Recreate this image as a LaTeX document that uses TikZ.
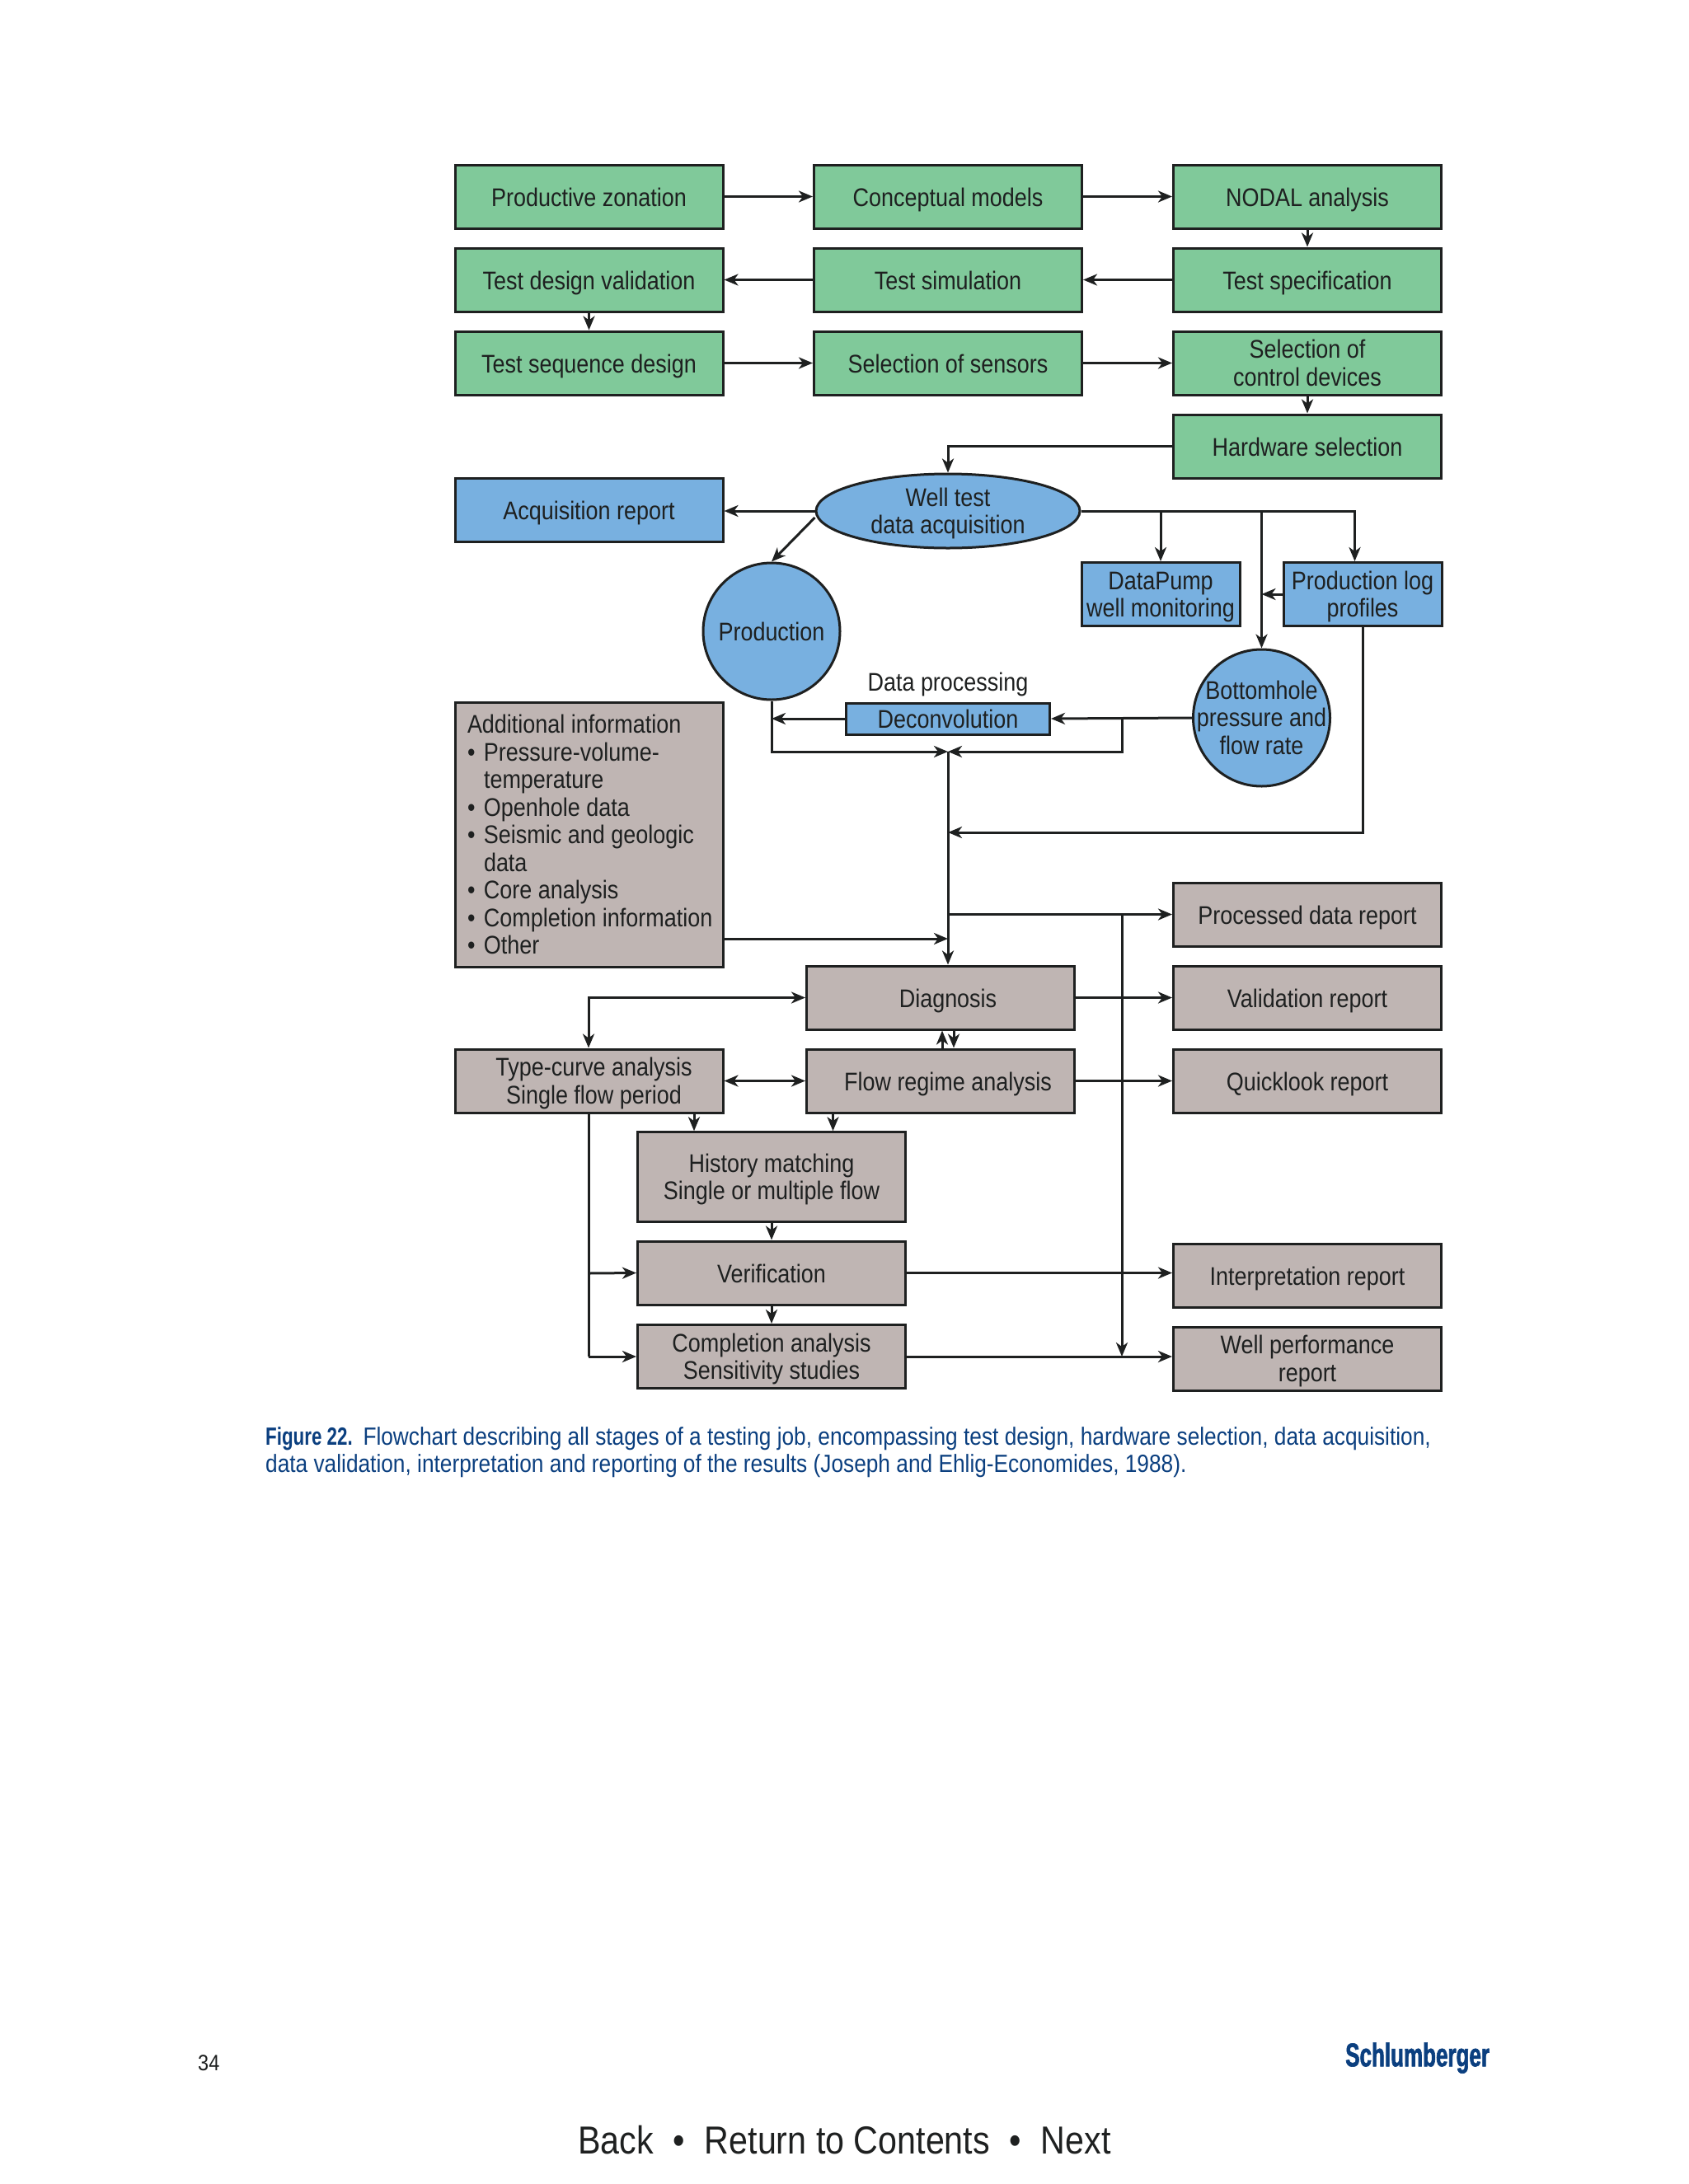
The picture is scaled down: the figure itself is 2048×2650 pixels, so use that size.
\documentclass[tikz,border=0pt]{standalone}
\usepackage{fontspec}
\setmainfont[FakeStretch=0.87]{Liberation Sans}
\newfontfamily\logofont[FakeStretch=0.65,FakeBold=1.5]{Liberation Sans}
\newfontfamily\capbold[FakeStretch=0.74]{Liberation Sans}
\usetikzlibrary{arrows.meta,calc,shapes.geometric}
\definecolor{gfill}{HTML}{80C99A}
\definecolor{bfill}{HTML}{78B0E0}
\definecolor{tfill}{HTML}{BFB5B3}
\definecolor{ink}{HTML}{1E2020}
\definecolor{navy}{HTML}{0B3F7F}
\newcommand\bul{\makebox[20pt][l]{\textbullet}}
\newcommand\ind{\hspace*{20pt}}
\newcommand\lines[1]{\raisebox{1pt}{\smash{\begin{tabular}{@{}c@{}}#1\end{tabular}}}}
\tikzset{
  base/.style={draw=ink,line width=3pt,text=ink,font=\fontsize{31}{33.5}\selectfont,align=center,inner sep=0pt,
    execute at begin node={\rule{0pt}{30pt}},execute at end node={\rule[-7pt]{0pt}{7pt}}},
  multi/.style={execute at begin node={},execute at end node={}},
  wide/.style={base,rectangle,minimum width=325pt,minimum height=77pt},
  gbox/.style={wide,fill=gfill},
  bbox/.style={wide,fill=bfill},
  tbox/.style={wide,fill=tfill},
  bcirc/.style={base,circle,fill=bfill,inner sep=-14pt,minimum size=166pt},
  link/.style={draw=ink,line width=3pt,-{Stealth[length=17pt,width=14pt,inset=5pt]}},
  twoway/.style={draw=ink,line width=3pt,{Stealth[length=17pt,width=14pt,inset=5pt]}-{Stealth[length=17pt,width=14pt,inset=5pt]}},
  plain/.style={draw=ink,line width=3pt},
  word/.style={inner sep=0pt,text=ink},
}
\begin{document}
\begin{tikzpicture}[x=1pt,y=-1pt]
\useasboundingbox (0,0) rectangle (2048,2650);
% green
\node[gbox] (zon) at (714.5,238.5) {Productive zonation};
\node[gbox] (con) at (1150,238.5) {Conceptual models};
\node[gbox] (nod) at (1586,238.5) {NODAL analysis};
\node[gbox] (val) at (714.5,339.5) {Test design validation};
\node[gbox] (sim) at (1150,339.5) {Test simulation};
\node[gbox] (spe) at (1586,339.5) {Test specification};
\node[gbox] (seq) at (714.5,440.5) {Test sequence design};
\node[gbox] (sen) at (1150,440.5) {Selection of sensors};
\node[gbox,multi] (ctl) at (1586,440.5) {\lines{Selection of\\control devices}};
\node[gbox] (hwd) at (1586,541.5) {Hardware selection};
% blue
\node[bbox] (acq) at (714.5,618.5) {Acquisition report};
\node[base,multi,ellipse,fill=bfill,inner sep=-12pt,minimum width=320pt,minimum height=90pt] (wta) at (1150,620) {\lines{Well test\\data acquisition}};
\node[bcirc] (pro) at (936,766) {Production};
\node[bbox,multi,minimum width=192pt] (dpm) at (1408,721) {\lines{DataPump\\well monitoring}};
\node[bbox,multi,minimum width=192pt] (plg) at (1653,721) {\lines{Production log\\profiles}};
\node[bcirc,multi] (bot) at (1530.5,871) {\lines{Bottomhole\\pressure and\\flow rate}};
\node[bbox,minimum width=247pt,minimum height=38pt] (dec) at (1150,872) {Deconvolution};
\node[word,font=\fontsize{31}{33.5}\selectfont] (dpl) at (1150,830) {Data processing};
% taupe
\node[tbox,multi,minimum height=321pt] (add) at (714.5,1012.5) {\begin{minipage}{295pt}\raggedright
\mbox{Additional information}\\
\bul Pressure-volume-\\
\ind temperature\\
\bul Openhole data\\
\bul Seismic and geologic\\
\ind data\\
\bul Core analysis\\
\mbox{\bul Completion information}\\
\bul Other\end{minipage}};
\node[tbox] (pdr) at (1586,1109.5) {Processed data report};
\node[tbox] (dia) at (1141,1210.5) {\hspace*{18pt}Diagnosis};
\node[tbox] (vrp) at (1586,1210.5) {Validation report};
\node[tbox,multi] (tcv) at (714.5,1311.5) {\lines{\hspace*{12pt}Type-curve analysis\\\hspace*{12pt}Single flow period}};
\node[tbox] (flw) at (1141,1311.5) {\hspace*{18pt}Flow regime analysis};
\node[tbox] (qrp) at (1586,1311.5) {Quicklook report};
\node[tbox,multi,minimum height=108.5pt] (his) at (936,1428) {\lines{History matching\\Single or multiple flow}};
\node[tbox] (ver) at (936,1544.5) {Verification};
\node[tbox,multi] (cpl) at (936,1646) {\lines{Completion analysis\\Sensitivity studies}};
\node[tbox] (irp) at (1586,1547.5) {Interpretation report};
\node[tbox,multi] (wrp) at (1586,1648.5) {\lines{Well performance\\report}};
% caption and page furniture
\node[inner sep=0pt,anchor=west,align=left,text=navy,font=\fontsize{30.2}{33.5}\selectfont] (cap) at (322,1762) {{\capbold\bfseries Figure 22.}\hspace{3pt} Flowchart describing all stages of a testing job, encompassing test design, hardware selection, data acquisition,\\data validation, interpretation and reporting of the results (Joseph and Ehlig-Economides, 1988).};
\node[word,anchor=west,font=\fontsize{27}{30}\selectfont] (pgn) at (240,2503) {34};
\node[inner sep=0pt,anchor=west,text=navy,font=\logofont\bfseries\fontsize{40}{44}\selectfont] (logo) at (1632,2497) {Schlumberger};
\node[word,font=\fontsize{47.4}{56}\selectfont] (nav) at (1024.5,2597) {Back\enspace\textbullet\enspace Return to Contents\enspace\textbullet\enspace Next};
% junctions
\coordinate (merge) at (1150,912);
\coordinate (bt) at (1530.5,620);
\coordinate (dp) at (1408,620);
\coordinate (pl) at (1643.5,620);
\coordinate (br) at (1361,872);
\coordinate (logj) at (1150,1010);
\coordinate (addj) at (1150,1139);
\coordinate (pdj) at (1150,1109.5);
\coordinate (vdn) at (1361,1109.5);
\coordinate (vup) at (1361,1646);
\coordinate (tcb) at (714,1350);
\coordinate (tcm) at (714,1545);
% green connectors
\draw[link] (zon.east) -- (con.west);
\draw[link] (con.east) -- (nod.west);
\draw[link] (nod.south) -- (spe.north);
\draw[link] (spe.west) -- (sim.east);
\draw[link] (sim.west) -- (val.east);
\draw[link] (val.south) -- (seq.north);
\draw[link] (seq.east) -- (sen.west);
\draw[link] (sen.east) -- (ctl.west);
\draw[link] (ctl.south) -- (hwd.north);
\draw[link] (hwd.west) -| (wta.north);
% acquisition connectors
\draw[link] (wta.west) -- (acq.east |- wta.west);
\draw[link] ([yshift=-8pt]wta.west) -- (pro.north);
\draw[plain] (wta.east) -- (bt);
\draw[link] (bt) -- (pl) -- (pl |- plg.north);
\draw[link] (dp) -- (dpm.north);
\draw[link] (bt) -- (bot.north);
\draw[link] (plg.west) -- (bt |- plg.west);
\draw[link] (bot.west) -- (dec.east);
\draw[link] (dec.west) -- (pro.south |- dec.west);
\draw[link] (pro.south) |- (merge);
\draw[link] (br) |- (merge);
\draw[link] (merge) -- (merge |- dia.north);
\draw[link] (plg.south) |- (logj);
\draw[link] (add.east |- addj) -- (addj);
\draw[link] (pdj) -- (pdr.west);
\draw[link] (vdn) -- (vup);
% analysis connectors
\draw[link] (dia.east) -- (vrp.west);
\draw[link] (flw.east) -- (qrp.west);
\draw[link] (ver.east) -- (ver.east -| irp.west);
\draw[link] (cpl.east) -- (cpl.east -| wrp.west);
\draw[twoway] (tcv.north -| tcb) |- (dia.west);
\draw[twoway] (tcv.east) -- (flw.west);
\draw[link] ([xshift=2pt]flw.north) -- ([xshift=2pt]dia.south);
\draw[link] ([xshift=16pt]dia.south) -- ([xshift=16pt]flw.north);
\draw[link] (tcv.south -| 842,0) -- (his.north -| 842,0);
\draw[link] (flw.south -| 1010.5,0) -- (his.north -| 1010.5,0);
\draw[link] (his.south) -- (ver.north);
\draw[link] (ver.south) -- (cpl.north);
\draw[plain] (tcb) -- (tcb |- cpl.west);
\draw[link] (tcb |- tcm) -- (ver.west);
\draw[link] (tcb |- cpl.west) -- (cpl.west);
\end{tikzpicture}
\end{document}
